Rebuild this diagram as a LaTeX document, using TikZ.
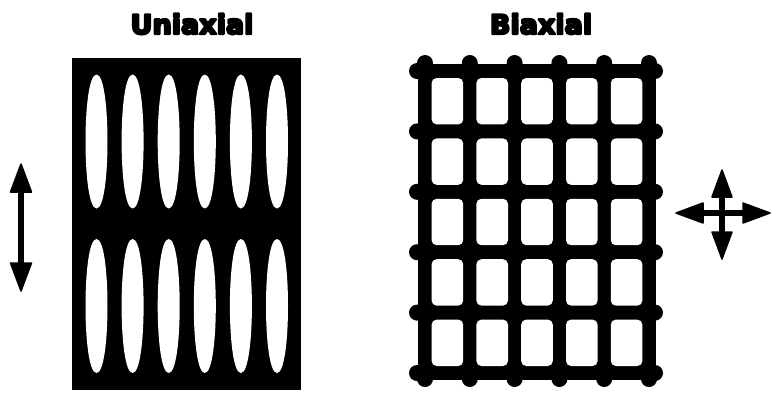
\documentclass[tikz,border=0pt]{standalone}
\usepackage{fontspec}
\newfontfamily\headfont{DejaVu Sans}
\newcommand{\heavytext}[1]{\special{pdf:literal direct 2.2 w 1 j 2 Tr}#1\special{pdf:literal direct 0 Tr}}
\tikzset{
  panel title/.style={font=\headfont\bfseries\fontsize{27}{27}\selectfont, inner sep=0pt},
  strain shaft/.style={line width=6pt, shorten <=20pt, shorten >=20pt},
  strain head/.style={fill=black, draw=black, line width=1.5pt, line join=round},
  knob/.style={fill=black}
}
\begin{document}
\begin{tikzpicture}[x=1pt, y=-1pt]
  \useasboundingbox (0,0) rectangle (772,392);
  % uniaxial sheet
  \fill[black] (72,58) rectangle (301,390);
  \foreach \i in {0,...,5}
    \foreach \cy in {141.5,306} {
      \pgfmathsetmacro\cx{96.5+36.1*\i}
      \fill[white] (\cx,\cy-67) .. controls (\cx+7.5,\cy-67) and (\cx+11,\cy-33) .. (\cx+11,\cy)
        .. controls (\cx+11,\cy+33) and (\cx+7.5,\cy+67) .. (\cx,\cy+67)
        .. controls (\cx-7.5,\cy+67) and (\cx-11,\cy+33) .. (\cx-11,\cy)
        .. controls (\cx-11,\cy-33) and (\cx-7.5,\cy-67) .. (\cx,\cy-67) -- cycle;
    }
  % biaxial grid
  \fill[black] (418,64) rectangle (656,380);
  \foreach \i in {0,...,4}
    \foreach \j in {0,...,4} {
      \pgfmathsetmacro\xa{425+44.8*\i+6.6}
      \pgfmathsetmacro\xb{425+44.8*(\i+1)-6.6}
      \pgfmathsetmacro\ya{71+60.4*\j+7}
      \pgfmathsetmacro\yb{71+60.4*(\j+1)-7}
      \fill[white, rounded corners=5pt] (\xa,\ya) rectangle (\xb,\yb);
    }
  \foreach \i in {0,...,5} {
    \pgfmathsetmacro\kx{425+44.8*\i}
    \pgfmathsetmacro\ky{71+60.4*\i}
    \fill[knob] (\kx,63) circle (8);
    \fill[knob] (\kx,379) circle (8);
    \fill[knob] (417,\ky) circle (8);
    \fill[knob] (655,\ky) circle (8);
  }
  % strain directions
  \coordinate (UA1) at (21,164);
  \coordinate (UA2) at (21,291);
  \draw[strain shaft] (UA1) -- (UA2);
  \filldraw[strain head] (UA1) -- ++(10.5,28) -- ++(-21,0) -- cycle;
  \filldraw[strain head] (UA2) -- ++(10.5,-28) -- ++(-21,0) -- cycle;
  \coordinate (BH1) at (676,213);
  \coordinate (BH2) at (770,213);
  \coordinate (BV1) at (722,170);
  \coordinate (BV2) at (722,259);
  \draw[strain shaft] (BH1) -- (BH2);
  \draw[strain shaft] (BV1) -- (BV2);
  \filldraw[strain head] (BH1) -- ++(27,10) -- ++(0,-20) -- cycle;
  \filldraw[strain head] (BH2) -- ++(-27,10) -- ++(0,-20) -- cycle;
  \filldraw[strain head] (BV1) -- ++(10,27) -- ++(-20,0) -- cycle;
  \filldraw[strain head] (BV2) -- ++(10,-27) -- ++(-20,0) -- cycle;
  % titles
  \node[panel title] (UNI) at (192,24) {\heavytext{Uniaxial}};
  \node[panel title] (BI) at (541,24) {\heavytext{Biaxial}};
\end{tikzpicture}
\end{document}
